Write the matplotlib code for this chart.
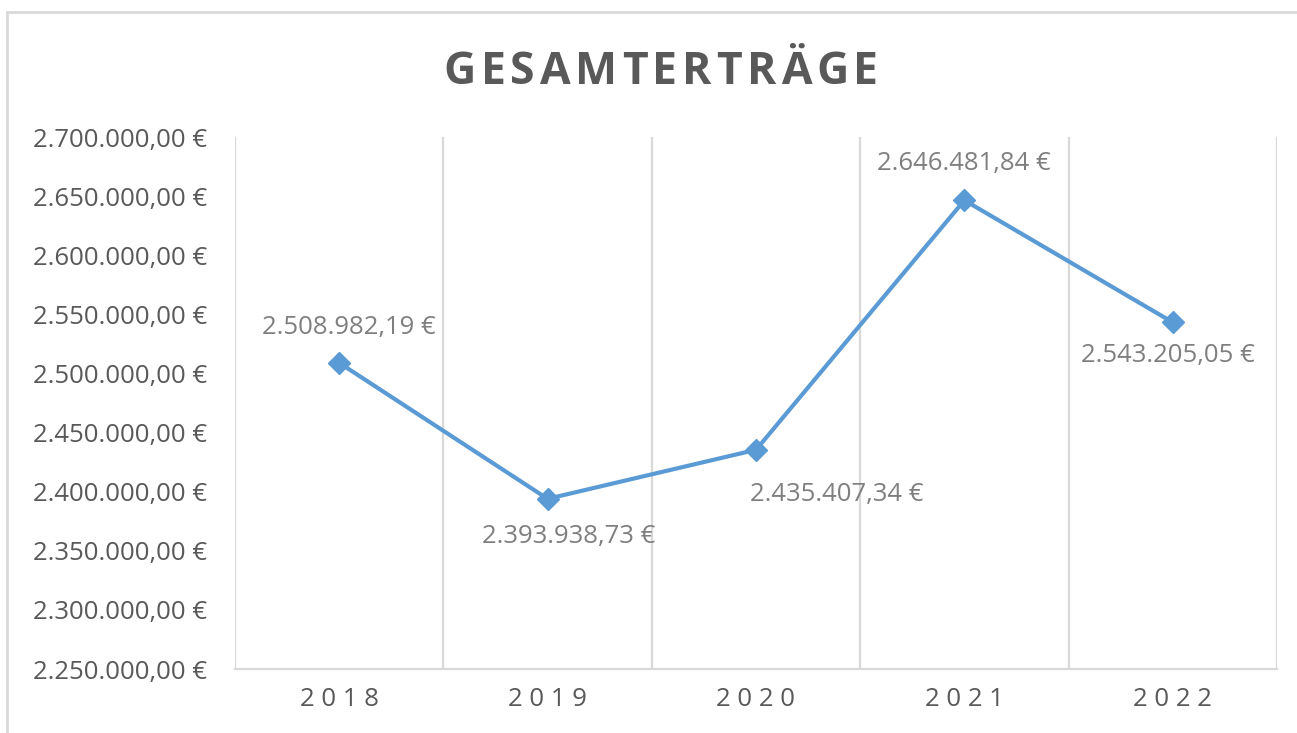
import matplotlib
matplotlib.use("Agg")
import matplotlib.pyplot as plt
from matplotlib.lines import Line2D

# data
jahre = ["2018", "2019", "2020", "2021", "2022"]
ertraege = [2508982.19, 2393938.73, 2435407.34, 2646481.84, 2543205.05]
titel = "GESAMTERTRÄGE"

# label offsets in pixels (dx, dy) relative to the point
label_off = [(10, 35), (21, -38), (81, -45), (-1, 37), (-5, -33)]

plt.rcParams['font.family'] = ['Open Sans', 'DejaVu Sans']

blau = '#5B9BD5'
grau_text = '#595959'
grau_label = '#7F7F7F'
grau_linie = '#D9D9D9'
fs = 18.5


def euro(v):
    s = f"{v:,.2f}"
    s = s.replace(",", "X").replace(".", ",").replace("X", ".")
    return s + " €"


fig = plt.figure(figsize=(12.97, 7.33), dpi=100)
ax = fig.add_axes([235/1297, 64/733, (1277-235)/1297, (669-137)/733])

x = list(range(len(jahre)))
ax.plot(x, ertraege, color=blau, lw=3, marker='D', ms=11, zorder=3)

ax.set_xlim(-0.5, len(jahre) - 0.5)
ax.set_ylim(2250000, 2700000)
ax.set_yticks([2250000 + 50000 * i for i in range(10)])
ax.set_yticklabels([euro(t) for t in ax.get_yticks()])
ax.set_xticks(x)
ax.set_xticklabels([" ".join(j) for j in jahre])

# vertical grid at category boundaries
for b in range(len(jahre) + 1):
    ax.axvline(b - 0.5, color=grau_linie, lw=1.6, zorder=1)

for s in ['top', 'right', 'left']:
    ax.spines[s].set_visible(False)
ax.spines['bottom'].set_color(grau_linie)
ax.spines['bottom'].set_linewidth(1.6)
ax.tick_params(length=0, labelsize=fs, colors=grau_text)
ax.tick_params(axis='y', pad=20)
ax.tick_params(axis='x', pad=13)

for i, v in enumerate(ertraege):
    dx, dy = label_off[i]
    ax.annotate(euro(v), (i, v), xytext=(dx, dy), textcoords='offset pixels',
                ha='center', va='center', fontsize=fs, color=grau_label)

# title with letter spacing, fitted to ~435 px
r = fig.canvas.get_renderer()
breiten = []
for ch in titel:
    t = fig.text(0, 0, ch, fontsize=32, fontweight='bold')
    breiten.append(t.get_window_extent(r).width)
    t.remove()
gesamt = 435
spacing = (gesamt - sum(breiten)) / (len(titel) - 1)
xpos = 661 - gesamt / 2
for ch, w in zip(titel, breiten):
    fig.text(xpos / 1297, 1 - 72 / 733, ch, fontsize=32, fontweight='bold',
             color=grau_text, ha='left', va='center')
    xpos += w + spacing

# chart border
fig.add_artist(Line2D([7/1297, 1.01], [1 - 12/733, 1 - 12/733],
                      transform=fig.transFigure, color=grau_linie, lw=2))
fig.add_artist(Line2D([7/1297, 7/1297], [-0.01, 1 - 12/733],
                      transform=fig.transFigure, color=grau_linie, lw=2))

fig.savefig("out.png", dpi=100)
